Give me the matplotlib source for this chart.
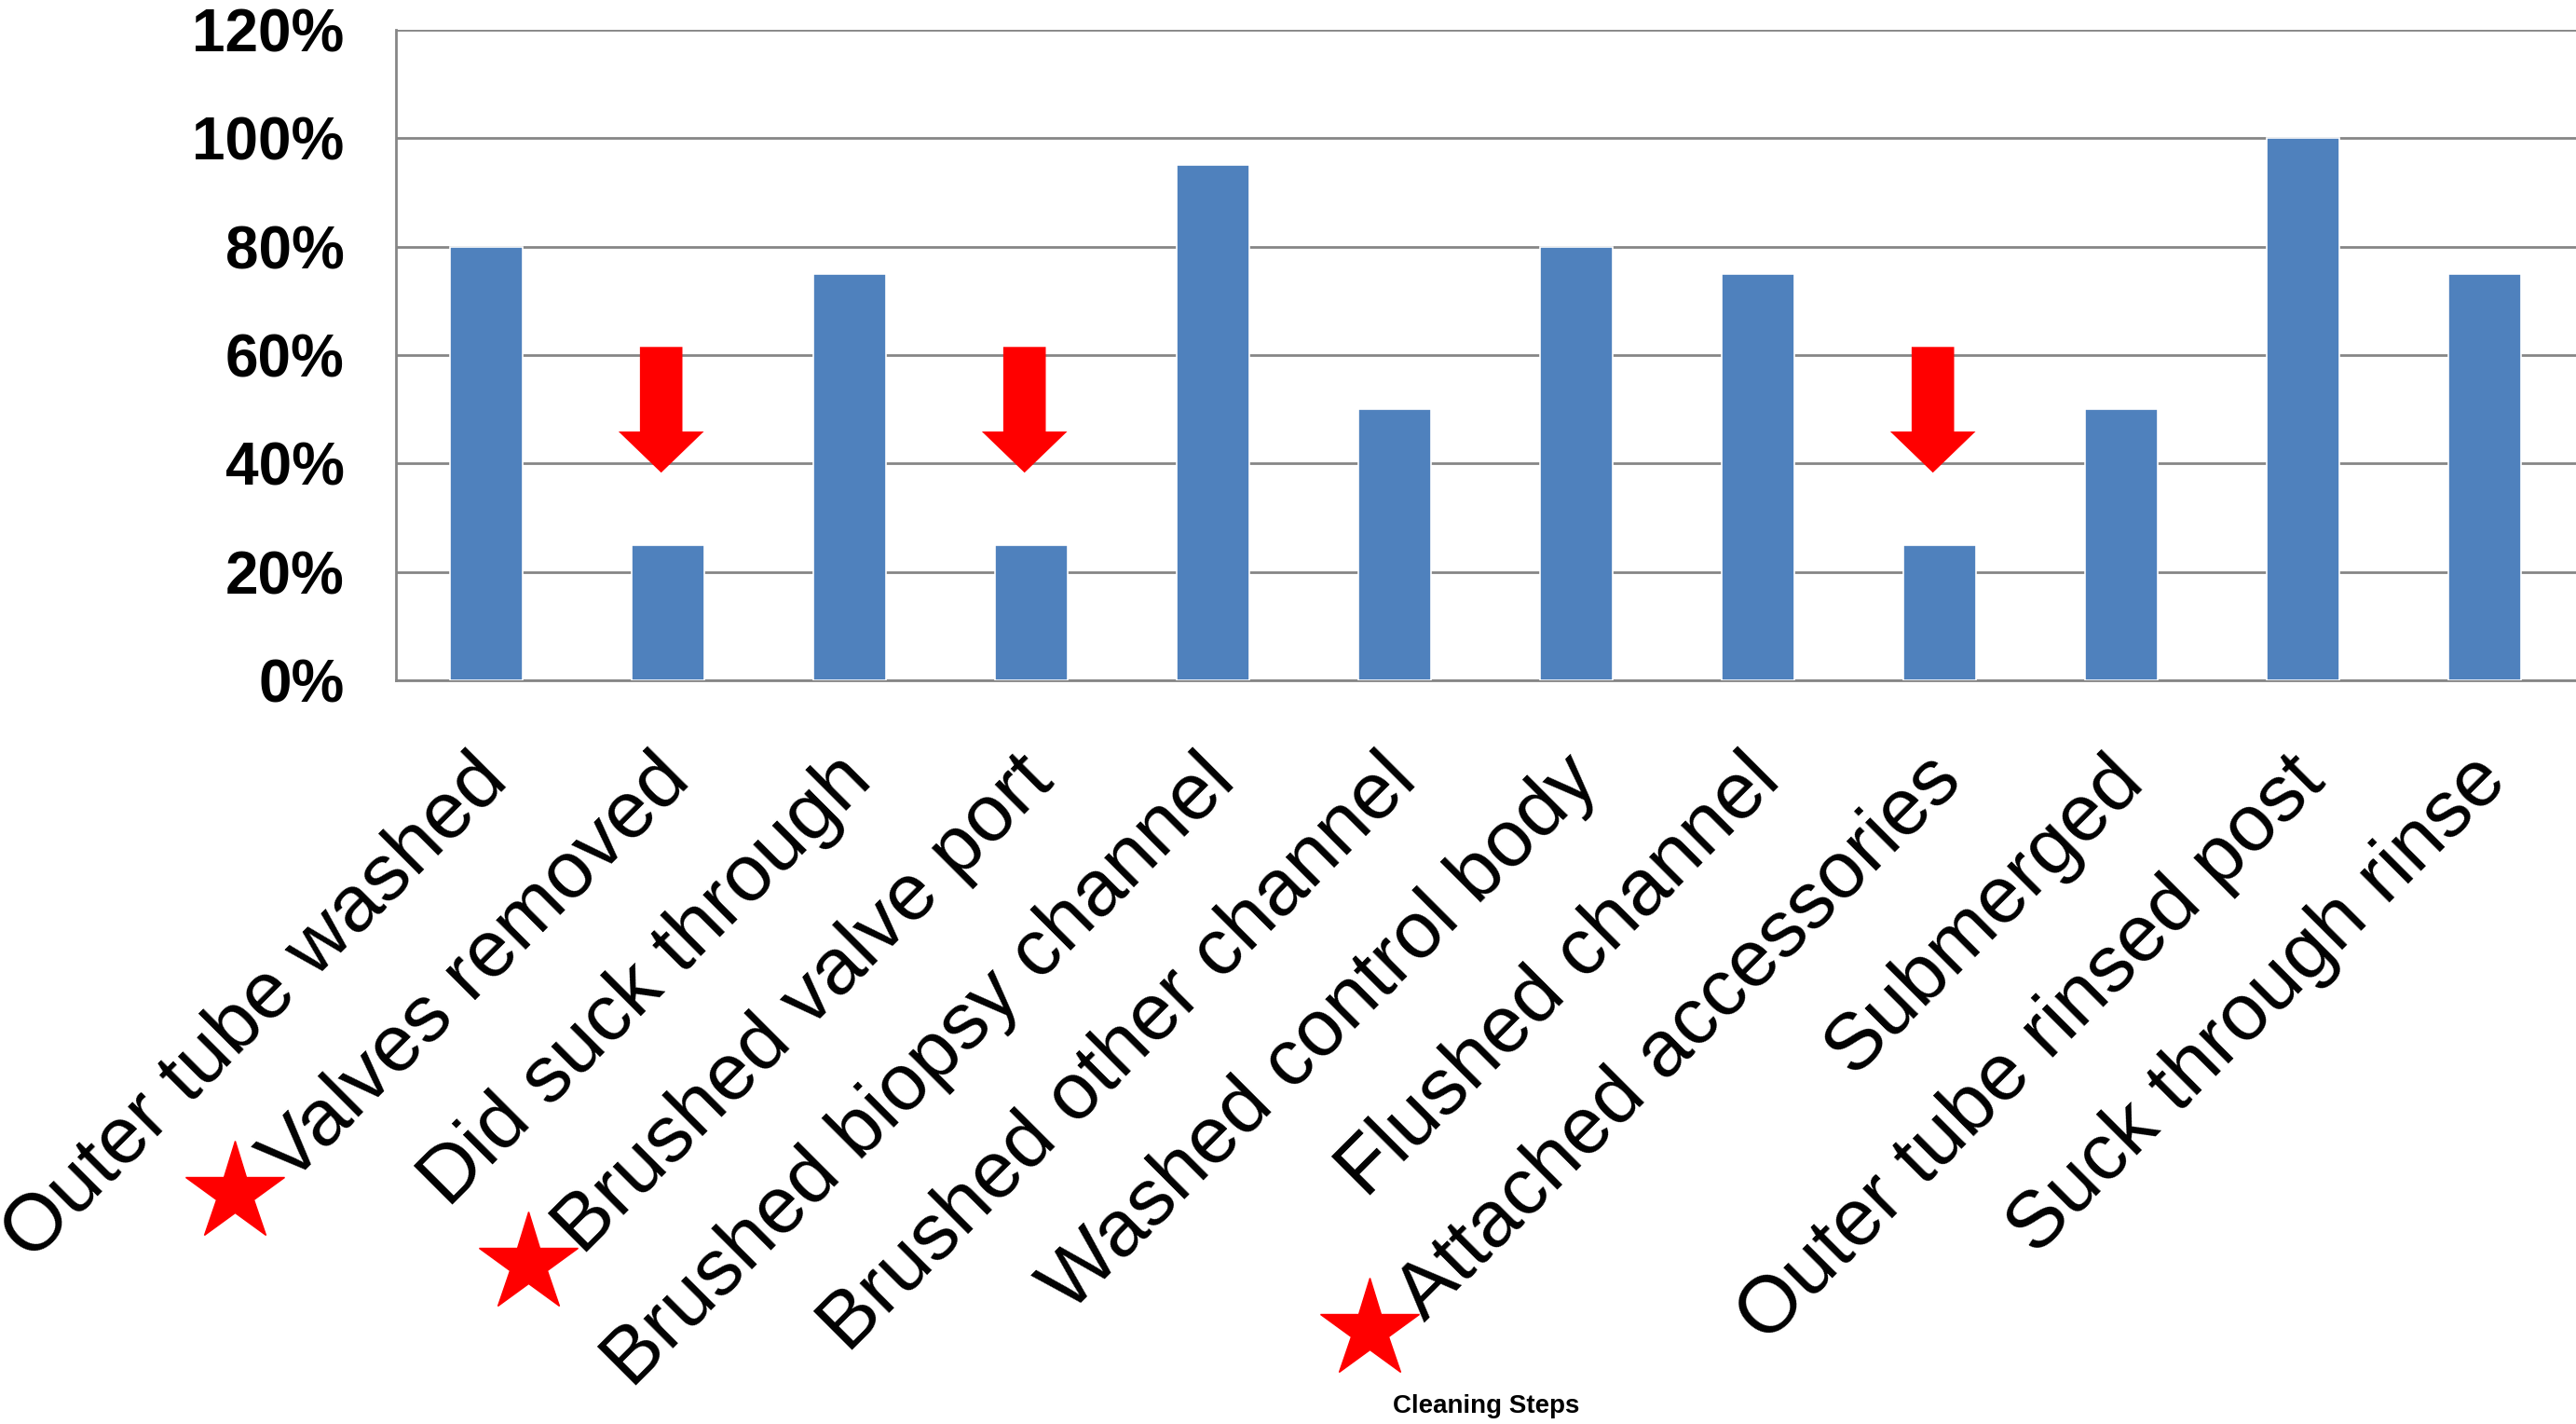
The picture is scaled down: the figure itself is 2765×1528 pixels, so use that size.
import matplotlib
matplotlib.use('Agg')
import matplotlib.pyplot as plt
import matplotlib.transforms as mtransforms
from matplotlib.ticker import PercentFormatter

plt.rcParams['font.family'] = ['Liberation Sans', 'DejaVu Sans']

steps = ['Outer tube washed', 'Valves removed', 'Did suck through',
         'Brushed valve port', 'Brushed biopsy channel', 'Brushed other channel',
         'Washed control body', 'Flushed channel', 'Attached accessories',
         'Submerged', 'Outer tube rinsed post', 'Suck through rinse']
compliance = [0.80, 0.25, 0.75, 0.25, 0.95, 0.50, 0.80, 0.75, 0.25, 0.50, 1.00, 0.75]
flagged = [1, 3, 8]          # steps marked with star + arrow
y_ticks = [0, 0.2, 0.4, 0.6, 0.8, 1.0, 1.2]

BAR = '#4F81BD'
GRID = '#868686'

fig = plt.figure(figsize=(27.65, 15.28), dpi=100)
ax = fig.add_axes([0.1537, 0.5223, 0.8463, 0.4567])

x = list(range(len(steps)))
ax.bar(x, compliance, width=0.4, color=BAR, edgecolor='white', linewidth=1.2, zorder=3)

ax.set_xlim(-0.5, len(steps) - 0.5)
ax.set_ylim(0, 1.2)
ax.set_yticks(y_ticks)
ax.yaxis.set_major_formatter(PercentFormatter(1.0, decimals=0))
ax.yaxis.grid(True, color=GRID, linewidth=2, zorder=0)
for s in ['top', 'right']:
    ax.spines[s].set_visible(False)
for s in ['left', 'bottom']:
    ax.spines[s].set_color(GRID)
    ax.spines[s].set_linewidth(2)
ax.tick_params(axis='y', length=0, pad=40, labelsize=46)
for lbl in ax.get_yticklabels():
    lbl.set_fontweight('bold')

ax.set_xticks(x)
ax.set_xticklabels(steps, rotation=45, ha='right', va='top',
                   rotation_mode='anchor', fontsize=62)
ax.tick_params(axis='x', length=0, pad=48)
shift = mtransforms.ScaledTranslation(-13 / 72, 0, fig.dpi_scale_trans)
for lbl in ax.get_xticklabels():
    lbl.set_transform(lbl.get_transform() + shift)

ax.set_xlabel('Cleaning Steps', fontsize=20, fontweight='bold', va='center')
ax.xaxis.set_label_coords(0.5, -1.116)

# red arrows pointing down to the weak steps
for i in flagged:
    ax.arrow(i - 0.04, 0.615, 0, -0.232, width=0.234, head_width=0.47,
             head_length=0.076, length_includes_head=True,
             color='red', linewidth=0, zorder=4, clip_on=False)

# red stars in front of the flagged labels
fig.canvas.draw()
renderer = fig.canvas.get_renderer()
inv = fig.transFigure.inverted()
labels = ax.get_xticklabels()
for i in flagged:
    bb = labels[i].get_window_extent(renderer)
    sx, sy = inv.transform((bb.x0 - 15, bb.y0 + 5))
    fig.lines.append(plt.Line2D([sx], [sy], marker='*', markersize=80,
                                color='red', linestyle='none',
                                transform=fig.transFigure))

fig.savefig('out.png', dpi=100)
